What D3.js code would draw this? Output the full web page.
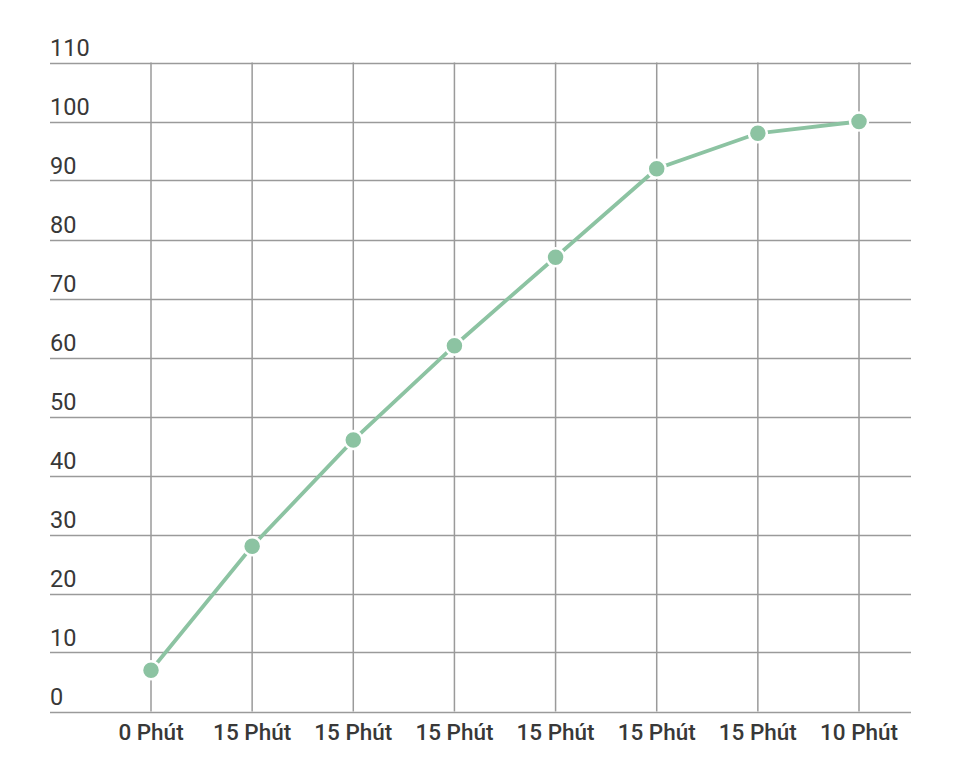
<!DOCTYPE html>
<html><head><meta charset="utf-8">
<script src="https://cdn.jsdelivr.net/npm/d3@7"></script>
<style>body{margin:0;background:#fff;} svg{display:block;}</style>
</head><body>
<script>
const categories = ["0 Phút","15 Phút","15 Phút","15 Phút","15 Phút","15 Phút","15 Phút","10 Phút"];
const values = [7, 28, 46, 62, 77, 92, 98, 100];
const yTicks = [0,10,20,30,40,50,60,70,80,90,100,110];

const W = 960, H = 773;
const svg = d3.select("body").append("svg").attr("width", W).attr("height", H);
const idx = categories.map((c,i)=>i);
const x = d3.scalePoint().domain(idx).range([151, 859]);
const y = d3.scaleLinear().domain([0,110]).range([711.5, 62.5]);
const left = 50, right = 911;
const grid = "#9a9a9a", txt = "#383838", green = "#8cc3a2";
const font = "Roboto, 'Noto Sans', sans-serif";

// horizontal grid
svg.append("g").selectAll("line").data(yTicks).join("line")
  .attr("x1", left).attr("x2", right)
  .attr("y1", d=>Math.round(y(d))+0.5).attr("y2", d=>Math.round(y(d))+0.5)
  .attr("stroke", grid).attr("stroke-width", 1.5);
// vertical grid
svg.append("g").selectAll("line").data(idx).join("line")
  .attr("x1", d=>x(d)).attr("x2", d=>x(d))
  .attr("y1", y(110)).attr("y2", y(0))
  .attr("stroke", grid).attr("stroke-width", 1.5);
// y labels
svg.append("g").selectAll("text").data(yTicks).join("text")
  .attr("x", left).attr("y", d=>y(d)-7)
  .attr("font-family", font).attr("font-size", 23.5).attr("font-weight", 400).attr("fill", txt)
  .text(d=>d);
// x labels
svg.append("g").selectAll("text").data(idx).join("text")
  .attr("x", d=>x(d)).attr("y", 740).attr("text-anchor","middle")
  .attr("font-family", font).attr("font-size", 22.5).attr("font-weight", 500).attr("fill", txt)
  .text(d=>categories[d]);
// line
const line = d3.line().x((d,i)=>x(i)).y(d=>y(d));
svg.append("path").datum(values).attr("d", line)
  .attr("fill","none").attr("stroke", green).attr("stroke-width", 3.8);
// points
svg.append("g").selectAll("circle").data(values).join("circle")
  .attr("cx",(d,i)=>x(i)).attr("cy", d=>y(d)).attr("r", 9)
  .attr("fill", green).attr("stroke","#fff").attr("stroke-width", 2.5);
</script>
</body></html>
